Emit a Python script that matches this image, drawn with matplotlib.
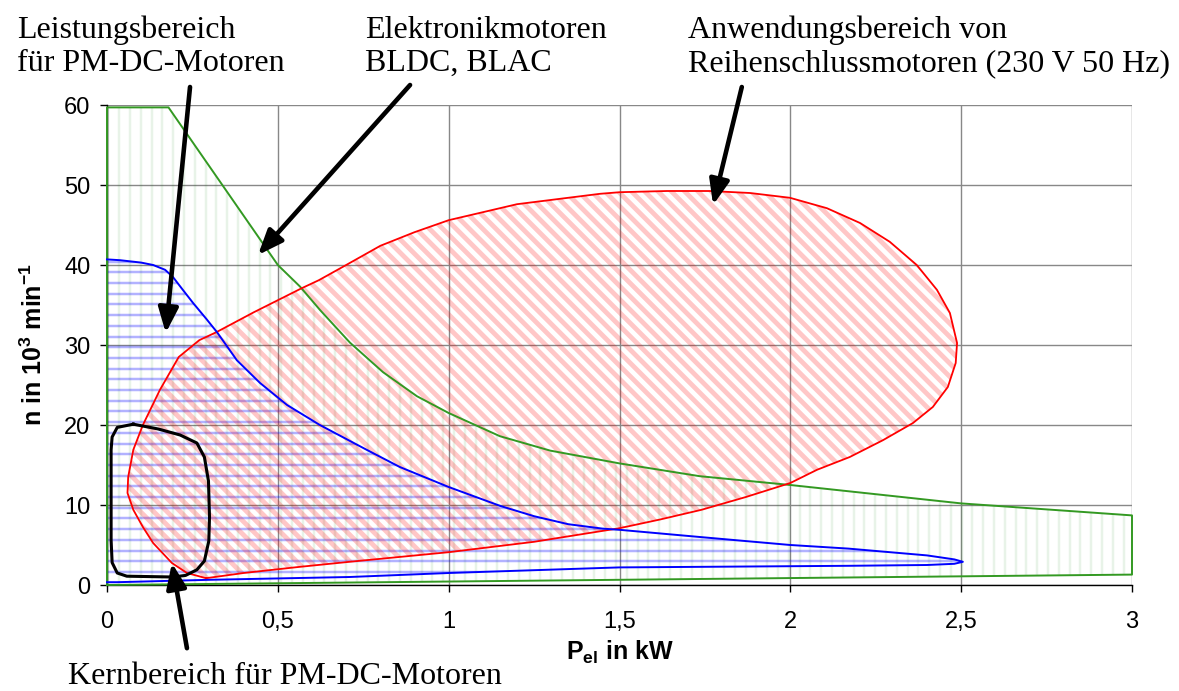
import numpy as np
import matplotlib
matplotlib.use('Agg')
import matplotlib.pyplot as plt
from matplotlib.patches import Polygon
from matplotlib.collections import LineCollection

plt.rcParams['font.family'] = ['Liberation Sans', 'DejaVu Sans']
plt.rcParams['mathtext.fontset'] = 'custom'
plt.rcParams['mathtext.rm'] = 'Liberation Sans'
plt.rcParams['mathtext.bf'] = 'Liberation Sans:bold'

# Elektronikmotoren BLDC/BLAC (green)
green_x = [0, 0, 0.18, 0.5, 0.565, 0.623, 0.711, 0.808, 0.907, 1.0, 1.15, 1.297, 1.5, 1.735, 2.0, 2.5, 3.0, 3.0, 0]
green_y = [0, 59.7, 59.7, 40.0, 37.3, 34.4, 30.3, 26.6, 23.6, 21.5, 18.6, 16.8, 15.2, 13.6, 12.5, 10.2, 8.7, 1.3, 0]

# Reihenschlussmotoren (red)
red_x = [0.29, 0.4, 0.56, 0.71, 1.0, 1.25, 1.5, 1.62, 1.74, 1.87, 2.0, 2.078, 2.174, 2.271, 2.359,
         2.417, 2.461, 2.484, 2.488, 2.467, 2.429, 2.37, 2.291, 2.204, 2.107, 1.999, 1.882, 1.765,
         1.639, 1.501, 1.443, 1.2, 1.0, 0.9, 0.8, 0.7, 0.62, 0.57, 0.43, 0.32, 0.27, 0.21, 0.155,
         0.105, 0.077, 0.062, 0.06, 0.077, 0.105, 0.135, 0.19, 0.234, 0.29]
red_y = [0.85, 1.5, 2.25, 2.9, 4.1, 5.4, 7.1, 8.2, 9.4, 11.0, 12.75, 14.4, 16.0, 18.1, 20.25,
         22.25, 24.75, 27.75, 30.25, 34.0, 36.9, 40.0, 42.9, 45.25, 47.1, 48.4, 49.0, 49.25,
         49.25, 49.1, 48.9, 47.6, 45.6, 44.1, 42.4, 40.0, 38.1, 37.1, 34.1, 31.6, 30.6, 28.5, 24.4,
         20.0, 16.9, 13.5, 11.5, 9.4, 7.25, 5.25, 2.75, 1.5, 0.85]

# PM-DC Leistungsbereich (blue)
blue_x = [0, 0.038, 0.1, 0.135, 0.17, 0.193, 0.22, 0.252, 0.29, 0.322, 0.38, 0.448, 0.527, 0.623,
          0.76, 0.857, 1.0, 1.15, 1.25, 1.35, 1.45, 1.5, 1.735, 2.0, 2.17, 2.4, 2.48, 2.505, 2.48,
          2.4, 2.17, 1.5, 1.0, 0.71, 0.3, 0.03, 0]
blue_y = [40.7, 40.6, 40.3, 40.0, 39.4, 38.5, 37.0, 35.25, 33.3, 31.6, 28.1, 25.25, 22.5, 20.0,
          16.9, 14.75, 12.25, 9.9, 8.6, 7.6, 7.05, 6.9, 6.0, 5.0, 4.55, 3.7, 3.2, 2.9, 2.65,
          2.5, 2.4, 2.2, 1.5, 1.0, 0.65, 0.35, 0.35]

# PM-DC Kernbereich (black)
kern_x = [0.077, 0.15, 0.214, 0.263, 0.285, 0.297, 0.30, 0.298, 0.285, 0.263, 0.23, 0.193, 0.058,
          0.03, 0.015, 0.012, 0.012, 0.015, 0.03, 0.077]
kern_y = [20.1, 19.5, 18.75, 17.75, 16.0, 13.0, 8.5, 5.5, 3.0, 1.9, 1.2, 1.0, 1.1,
          1.5, 2.8, 5.6, 16.9, 18.5, 19.7, 20.1]

x_ticks = [0, 0.5, 1, 1.5, 2, 2.5, 3]
x_ticklabels = ['0', '0,5', '1', '1,5', '2', '2,5', '3']
y_ticks = [0, 10, 20, 30, 40, 50, 60]

# annotation arrows: (tail, head) in data coords
arrows = [((0.243, 62.25), (0.172, 31.5)),
          ((0.887, 62.5), (0.442, 41.25)),
          ((1.858, 62.25), (1.774, 47.5)),
          ((0.234, -7.9), (0.19, 2.75))]

fig = plt.figure(figsize=(11.79, 6.91), dpi=100)
ax = fig.add_axes([107/1179, 1 - 585/691, 1025/1179, 480/691])
ax.set_xlim(0, 3)
ax.set_ylim(0, 60)

# pixels per data unit, needed for hatch spacing
ppx = ax.bbox.width / 3
ppy = ax.bbox.height / 60


def hatch(xs, ys, kind, spacing, color, alpha, lw):
    patch = Polygon(np.column_stack([xs, ys]), closed=True, fill=False, edgecolor='none')
    ax.add_patch(patch)
    segs = []
    if kind == 'v':
        for x in np.arange(0.004, 3.05, spacing / ppx):
            segs.append([(x, -5), (x, 65)])
    elif kind == 'h':
        for y in np.arange(0.3, 62, spacing / ppy):
            segs.append([(-1, y), (4, y)])
    else:
        dx = spacing / ppx
        run = 70 * ppy / ppx
        for x in np.arange(-3, 4, dx):
            segs.append([(x, 65), (x + run, -5)])
    lc = LineCollection(segs, colors=color, alpha=alpha, linewidths=lw * 0.72, zorder=1)
    ax.add_collection(lc)
    lc.set_clip_path(patch)


hatch(green_x, green_y, 'v', 10.8, '#008000', 0.09, 2.5)
hatch(blue_x, blue_y, 'h', 10.7, '#0000ff', 0.3, 2.5)
hatch(red_x, red_y, 'd', 13.3, '#ff0000', 0.22, 4.8)

ax.plot(green_x, green_y, color='#339922', lw=1.4, zorder=3, clip_on=False)
ax.plot(red_x, red_y, color='#ff0000', lw=1.3, zorder=3)
ax.plot(blue_x, blue_y, color='#0000ff', lw=1.4, zorder=3, clip_on=False)
ax.plot(kern_x, kern_y, color='black', lw=2.2, zorder=4, solid_joinstyle='round')

for tail, head in arrows:
    ax.annotate('', xy=head, xytext=tail, annotation_clip=False,
                arrowprops=dict(arrowstyle='-|>,head_length=0.75,head_width=0.3',
                                mutation_scale=20, lw=3.3, color='black',
                                shrinkA=0, shrinkB=0))

ax.set_xticks(x_ticks)
ax.set_xticklabels(x_ticklabels)
ax.set_yticks(y_ticks)
ax.grid(True, color='#888888', lw=1.0, zorder=0)
ax.set_axisbelow(True)
for s in ['top', 'right']:
    ax.spines[s].set_visible(False)
for s in ['left', 'bottom']:
    ax.spines[s].set_linewidth(1.0)
ax.tick_params(axis='x', length=5, width=1, pad=14, labelsize=17)
ax.tick_params(axis='y', length=5, width=1, pad=7, labelsize=17)

ax.set_xlabel(r'P$_{\mathbf{el}}$ in kW', fontsize=18, fontweight='bold', labelpad=4)
ax.set_ylabel(r'n in 10$^{\mathbf{3}}$ min$^{\mathbf{-1}}$', fontsize=18, fontweight='bold', labelpad=12)

serif = dict(family='Liberation Serif', fontsize=23, va='baseline', linespacing=1.2)
fig.text(17/1179, 1 - 71/691, 'Leistungsbereich\nfür PM-DC-Motoren', **serif)
fig.text(365/1179, 1 - 71/691, 'Elektronikmotoren\nBLDC, BLAC', **serif)
fig.text(688/1179, 1 - 71/691, 'Anwendungsbereich von\nReihenschlussmotoren (230 V 50 Hz)', **serif)
fig.text(68/1179, 1 - 684/691, 'Kernbereich für PM-DC-Motoren', **serif)

fig.savefig('out.png', dpi=100)
